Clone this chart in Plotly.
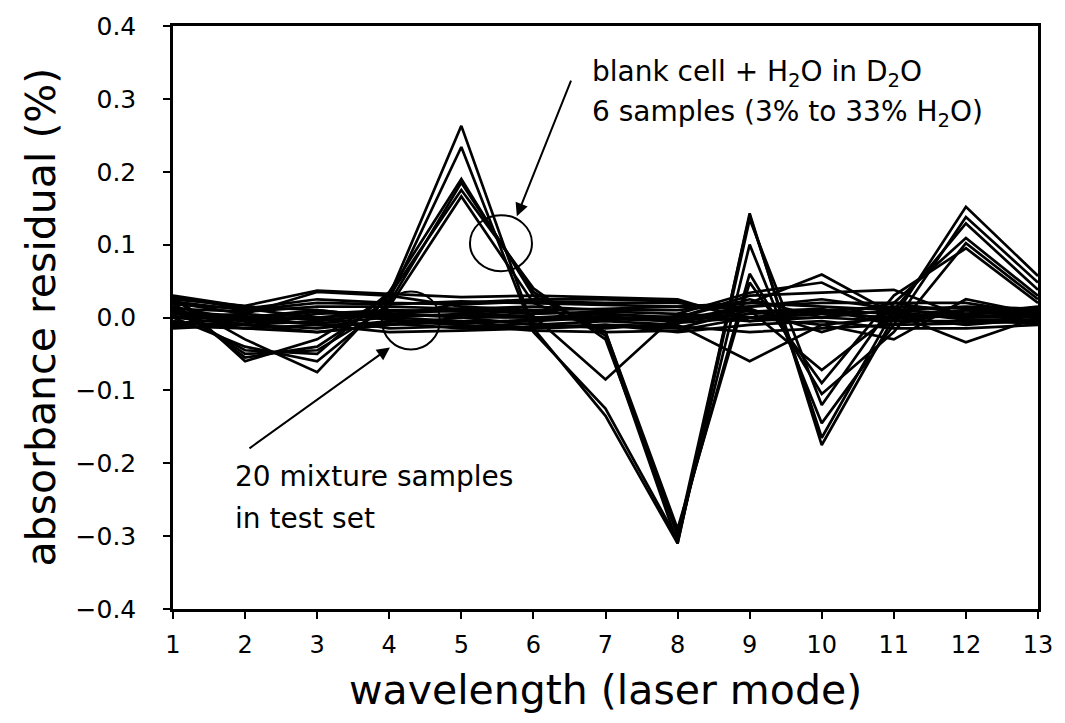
import plotly.graph_objects as go

# Laser modes along the x axis
wavelength_modes = list(range(1, 14))

# Residuals (%) for blank cell + H2O in D2O, six samples (3% to 33% H2O)
blank_cell_samples = [
    [0.030, -0.060, -0.030, 0.030, 0.263, -0.015, -0.135, -0.310, 0.143, -0.175, 0.000, 0.152, 0.057],
    [0.020, -0.055, -0.040, 0.025, 0.234, -0.020, -0.125, -0.305, 0.100, -0.145, -0.010, 0.138, 0.048],
    [0.010, -0.045, -0.050, 0.035, 0.190, 0.030, -0.020, -0.300, 0.140, -0.165, 0.010, 0.129, 0.038],
    [0.000, -0.040, -0.060, 0.020, 0.185, 0.035, -0.025, -0.310, 0.135, -0.120, 0.020, 0.109, 0.030],
    [0.025, -0.030, -0.075, 0.030, 0.175, 0.040, -0.030, -0.295, 0.060, -0.105, -0.020, 0.102, 0.025],
    [0.015, -0.050, -0.045, 0.015, 0.166, 0.020, -0.020, -0.290, 0.048, -0.090, 0.030, 0.095, 0.020],
]

# Residuals (%) for the 20 mixture samples in the test set
mixture_samples = [
    [0.030, 0.015, 0.010, 0.000, 0.020, 0.025, 0.025, 0.022, 0.000, 0.010, 0.005, 0.000, 0.005],
    [0.025, 0.016, 0.037, 0.033, 0.028, 0.030, 0.028, 0.025, -0.005, 0.000, 0.010, 0.005, 0.010],
    [0.020, 0.005, 0.035, 0.030, 0.015, 0.010, 0.012, 0.015, 0.020, 0.059, 0.005, 0.000, 0.008],
    [0.015, -0.005, 0.000, 0.005, 0.010, 0.005, 0.008, 0.005, 0.034, 0.048, 0.000, 0.010, 0.005],
    [0.010, -0.010, -0.020, -0.010, 0.000, 0.000, 0.005, 0.000, 0.030, 0.034, 0.038, 0.000, 0.000],
    [0.005, 0.000, 0.010, 0.000, 0.005, 0.002, -0.085, 0.005, 0.000, -0.010, -0.030, 0.025, 0.005],
    [0.000, -0.010, -0.005, 0.005, 0.000, -0.010, -0.005, -0.010, -0.060, -0.010, 0.000, 0.005, -0.005],
    [-0.005, -0.015, -0.020, -0.010, -0.005, -0.015, -0.012, -0.015, 0.010, -0.072, 0.005, -0.034, 0.000],
    [-0.010, -0.008, 0.005, 0.010, 0.008, 0.000, -0.002, -0.005, 0.005, 0.010, 0.015, 0.012, 0.010],
    [-0.015, -0.010, -0.015, -0.005, -0.010, -0.018, -0.020, -0.018, 0.000, 0.000, -0.005, -0.005, -0.008],
    [0.012, 0.008, 0.015, 0.015, 0.012, 0.015, 0.010, 0.010, 0.020, 0.015, 0.010, 0.015, 0.012],
    [0.022, 0.010, 0.020, 0.018, 0.022, 0.020, 0.018, 0.015, 0.015, 0.020, 0.020, 0.005, 0.015],
    [0.008, 0.002, -0.010, -0.008, -0.015, -0.012, -0.010, -0.012, -0.020, -0.015, -0.010, -0.008, -0.005],
    [-0.008, -0.002, 0.000, -0.015, -0.012, -0.008, -0.015, -0.008, 0.000, 0.005, 0.000, -0.010, -0.002],
    [0.018, 0.012, 0.025, 0.020, 0.018, 0.022, 0.020, 0.020, 0.008, 0.012, -0.010, 0.010, 0.000],
    [0.002, -0.005, -0.008, 0.000, -0.005, -0.005, 0.000, -0.003, 0.015, 0.025, 0.012, 0.000, 0.003],
    [-0.012, -0.015, -0.010, -0.020, -0.018, -0.015, -0.010, -0.020, -0.010, -0.005, -0.015, -0.015, -0.010],
    [0.028, 0.012, 0.000, 0.008, 0.012, 0.008, 0.005, 0.000, 0.025, 0.000, 0.020, 0.020, 0.005],
    [0.000, 0.005, -0.004, 0.004, 0.003, 0.000, -0.004, 0.002, -0.005, 0.008, -0.002, 0.003, 0.002],
    [0.006, -0.003, 0.008, -0.003, -0.008, -0.003, 0.002, -0.006, 0.012, -0.020, 0.008, -0.003, -0.004],
]

FONT = "DejaVu Sans"
INK = "black"

fig = go.Figure()

for values in mixture_samples + blank_cell_samples:
    fig.add_trace(go.Scatter(x=wavelength_modes, y=values, mode="lines",
                             line=dict(color=INK, width=2.7), showlegend=False,
                             hoverinfo="skip"))

axis_common = dict(
    showgrid=False, zeroline=False, showline=True, linecolor=INK, linewidth=2.5,
    mirror=True, ticks="outside", ticklen=7, tickwidth=2, tickcolor=INK,
)

fig.update_xaxes(range=[1, 13], tickmode="array", tickvals=wavelength_modes,
                 ticklabelstandoff=5, tickfont=dict(family=FONT, size=24, color=INK),
                 **axis_common)
fig.update_yaxes(range=[-0.4, 0.4], tickmode="linear", tick0=-0.4, dtick=0.1,
                 tickformat=".1f", ticklabelstandoff=22,
                 tickfont=dict(family=FONT, size=25, color=INK), **axis_common)

label_font = dict(family=FONT, size=28, color=INK)

annotations = [
    # axis titles
    dict(text="absorbance residual (%)", xref="paper", yref="paper", x=0, y=0.5,
         xshift=-133, xanchor="center", yanchor="middle", textangle=-90,
         showarrow=False, font=dict(family=FONT, size=41, color=INK)),
    dict(text="wavelength (laser mode)", xref="paper", yref="paper", x=0.5, y=0,
         yshift=-81, xanchor="center", yanchor="middle", showarrow=False,
         font=dict(family=FONT, size=41, color=INK)),
    # blank cell label
    dict(text="blank cell + H<sub>2</sub>O in D<sub>2</sub>O", x=6.78, y=0.335,
         xanchor="left", showarrow=False, font=label_font),
    dict(text="6 samples (3% to 33% H<sub>2</sub>O)", x=6.78, y=0.28,
         xanchor="left", showarrow=False, font=label_font),
    dict(text="", x=5.77, y=0.139, ax=6.53, ay=0.327, axref="x", ayref="y",
         showarrow=True, arrowhead=2, arrowsize=1.3, arrowwidth=2, arrowcolor=INK),
    # mixture label
    dict(text="20 mixture samples", x=1.83, y=-0.218, xanchor="left",
         showarrow=False, font=label_font),
    dict(text="in test set", x=1.83, y=-0.276, xanchor="left",
         showarrow=False, font=label_font),
    dict(text="", x=4.01, y=-0.041, ax=2.04, ay=-0.181, axref="x", ayref="y",
         showarrow=True, arrowhead=2, arrowsize=1.3, arrowwidth=2, arrowcolor=INK),
]

shapes = [
    dict(type="circle", xref="x", yref="y", xsizemode="pixel", ysizemode="pixel",
         xanchor=5.55, yanchor=0.102, x0=-31, x1=31, y0=-28, y1=28,
         line=dict(color=INK, width=2)),
    dict(type="circle", xref="x", yref="y", xsizemode="pixel", ysizemode="pixel",
         xanchor=4.30, yanchor=-0.004, x0=-29, x1=29, y0=-29, y1=29,
         line=dict(color=INK, width=2)),
]

fig.update_layout(
    width=1065, height=723,
    margin=dict(l=173, r=27, t=21, b=114),
    paper_bgcolor="white", plot_bgcolor="white",
    font=dict(family=FONT, color=INK),
    annotations=annotations, shapes=shapes,
)

fig.write_html("out.html")
